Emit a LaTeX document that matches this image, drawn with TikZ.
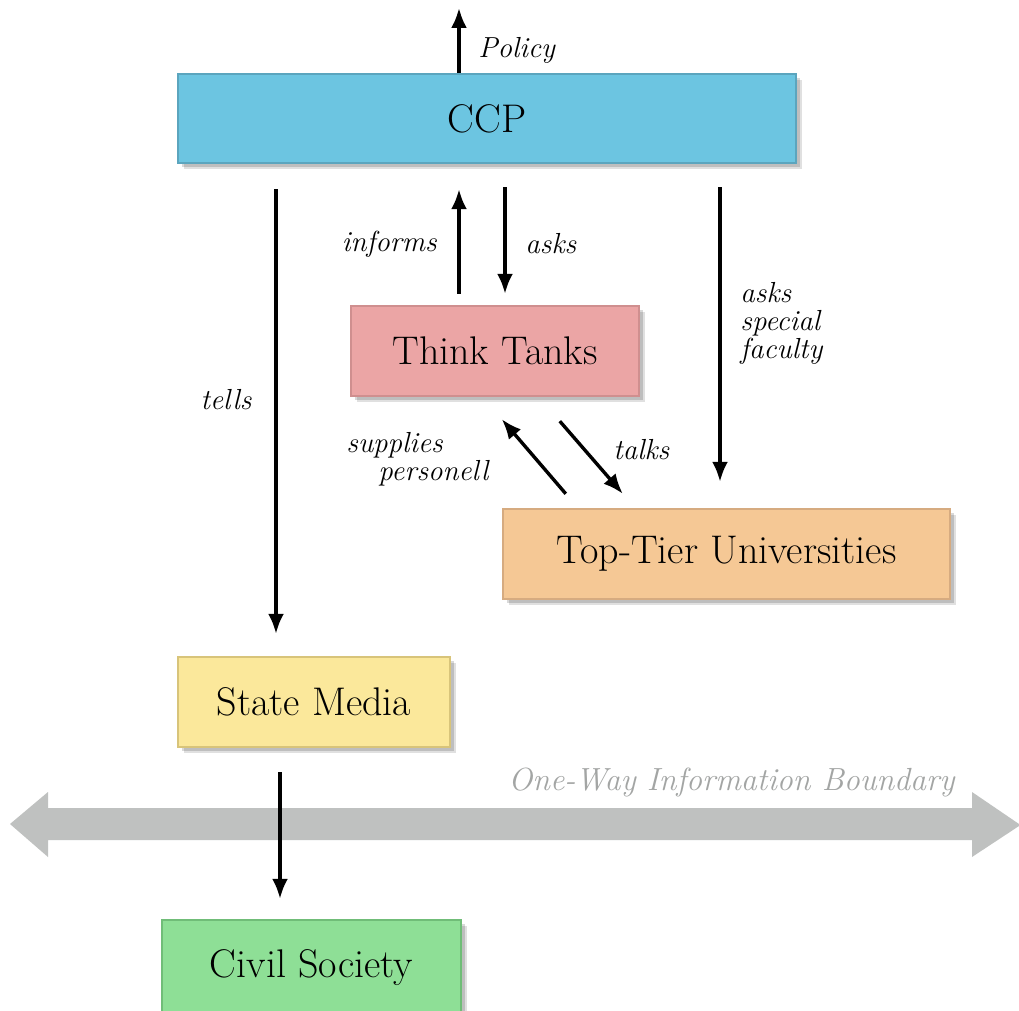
\documentclass[tikz,border=0pt]{standalone}
\usetikzlibrary{arrows.meta,shadows,calc,positioning}
\definecolor{ccpfill}{HTML}{6CC5E1}\definecolor{ccpline}{HTML}{5BA5BE}
\definecolor{ttfill}{HTML}{EBA5A5}\definecolor{ttline}{HTML}{CF8F8F}
\definecolor{tufill}{HTML}{F5C895}\definecolor{tuline}{HTML}{D6AB80}
\definecolor{smfill}{HTML}{FBE89B}\definecolor{smline}{HTML}{D8C47A}
\definecolor{csfill}{HTML}{8EDF96}\definecolor{csline}{HTML}{70BD78}
\definecolor{bound}{HTML}{BFC1C0}
\definecolor{boundtxt}{HTML}{A3A5A4}
\begin{document}
\begin{tikzpicture}[x=0.5pt,y=-0.5pt,
  boxstyle/.style={draw, line width=1.2pt, inner sep=0pt, align=center,
    font=\fontsize{20}{24}\selectfont,
    drop shadow={shadow xshift=3pt, shadow yshift=-3pt, opacity=0.12, fill=black},
    drop shadow={shadow xshift=2pt, shadow yshift=-2pt, opacity=0.15, fill=black}},
  lbl/.style={font=\fontsize{14.5}{14}\selectfont\itshape, inner sep=0pt},
  arr/.style={line width=1.7pt, -{Latex[length=10pt,width=8pt]}}]
\clip (0,0) rectangle (1019,1011);
\fill[white] (0,0) rectangle (1019,1011);
% boundary arrow
\fill[bound] (10,824) -- (48,792) -- (48,808) -- (972,808) -- (972,792) -- (1019,824) -- (1019,826) -- (972,857) -- (972,840) -- (48,840) -- (48,857) -- cycle;
\node[lbl, text=boundtxt, anchor=east, font=\fontsize{16}{18}\selectfont\itshape] (blabel) at (955,782) {One-Way Information Boundary};
% boxes
\node[boxstyle, fill=ccpfill, draw=ccpline, minimum width=309pt, minimum height=44.5pt] (ccp) at (487,118.5) {CCP};
\node[boxstyle, fill=ttfill, draw=ttline, minimum width=144pt, minimum height=45pt] (tt) at (495,351) {Think Tanks};
\node[boxstyle, fill=tufill, draw=tuline, minimum width=223.5pt, minimum height=45pt] (tu) at (726.5,554) {Top-Tier Universities};
\node[boxstyle, fill=smfill, draw=smline, minimum width=136pt, minimum height=45pt] (sm) at (314,702) {State Media};
\node[boxstyle, fill=csfill, draw=csline, minimum width=149.5pt, minimum height=48pt] (cs) at (311.5,968) {Civil Society};
% coordinates
\coordinate (pol) at (459,8);
\coordinate (xt) at (276,0);
\coordinate (xi) at (459,0);
\coordinate (xa) at (505,0);
\coordinate (xf) at (720,0);
\coordinate (xs) at (280,0);
% arrows
\draw[arr] (ccp.north -| pol) -- (pol);
\node[lbl, anchor=west] (lpol) at (478,50) {Policy};
\draw[arr] ($(ccp.south -| xt)+(0,25)$) -- ($(sm.north -| xt)+(0,-22)$);
\node[lbl] (ltells) at (226,400) {tells};
\draw[arr] ($(tt.north -| xi)+(0,-11)$) -- ($(ccp.south -| xi)+(0,25)$);
\node[lbl, anchor=east] (linf) at (437,244) {informs};
\draw[arr] ($(ccp.south -| xa)+(0,23)$) -- ($(tt.north -| xa)+(0,-11)$);
\node[lbl, anchor=west] (lasks) at (525,244) {asks};
\draw[arr] ($(ccp.south -| xf)+(0,23)$) -- ($(tu.north -| xf)+(0,-26)$);
\node[lbl, anchor=north west, align=left] (lfac) at (740,282) {asks\\special\\faculty};
\draw[arr] ($(tu.north west)+(64,-14)$) -- ($(tt.south west)+(152,22)$);
\node[lbl, anchor=north west, align=left] (lsup) at (346,432) {supplies\\\hspace*{16pt}personell};
\draw[arr] ($(tt.south west)+(210,24)$) -- ($(tu.north west)+(121,-14)$);
\node[lbl, anchor=west] (ltalks) at (613,450) {talks};
\draw[arr] ($(sm.south -| xs)+(0,24)$) -- ($(cs.north -| xs)+(0,-20)$);
\end{tikzpicture}
\end{document}
